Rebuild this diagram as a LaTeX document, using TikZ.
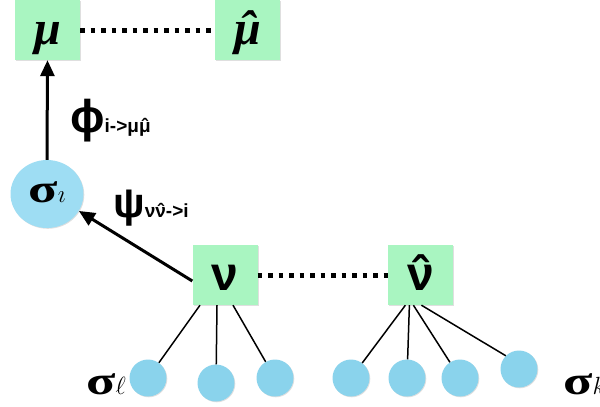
\documentclass[tikz,border=0pt]{standalone}
\usepackage{fontspec}
\setmainfont{Liberation Serif}
\newfontfamily\lsans{Liberation Sans}
\usetikzlibrary{positioning,arrows.meta,shadows,shapes.geometric}

\definecolor{factorgreen}{HTML}{A9F5C1}
\definecolor{varblue}{HTML}{8AD3EC}
\definecolor{rootblue}{HTML}{9EDDF3}

\tikzset{
   factor/.style={rectangle, fill=factorgreen, minimum width=65pt, minimum height=60pt,
      inner sep=0pt, drop shadow={shadow xshift=1pt, shadow yshift=-1pt, opacity=0.25}},
   var/.style={circle, fill=varblue, minimum size=37pt, inner sep=0pt,
      drop shadow={shadow xshift=0.8pt, shadow yshift=-0.8pt, opacity=0.25}},
   msg/.style={-{Triangle[length=16pt,width=14pt]}, line width=3pt},
   same/.style={line width=5pt, dash pattern=on 4.5pt off 6pt},
   link/.style={line width=1.5pt}
}

\newcommand{\hatted}[1]{\accent"02C6 #1}
\newcommand{\widesigma}{{\fontsize{40}{42}\selectfont\bfseries\scalebox{1.35}[1]{σ}}}

\begin{document}
\begin{tikzpicture}[x=1pt,y=-1pt]
   \useasboundingbox (0,0) rectangle (600,407);

   % top factors
   \node[factor, text height=28pt, text depth=0pt] (mu) at (47.5,30)
      {\fontsize{48}{50}\selectfont\bfseries\itshape μ};
   \node[factor, text height=28pt, text depth=0pt, right=135pt of mu] (muhat)
      {\fontsize{48}{50}\selectfont\bfseries\itshape \hatted{μ}};
   \draw[same] (mu) -- (muhat);

   % root variable
   \node[ellipse, fill=rootblue, minimum width=73pt, minimum height=68pt, inner sep=0pt,
      drop shadow={shadow xshift=0.8pt, shadow yshift=-0.8pt, opacity=0.25}]
      (si) at (47,194) {};
   \node[inner sep=0pt] (silabel) at ([yshift=2pt]si) {\widesigma\fontsize{36}{38}\selectfont$\imath$};

   % lower factors
   \node[factor, text height=30pt, text depth=0pt] (nu) at (225,275)
      {\lsans\fontsize{48}{50}\selectfont\bfseries ν};
   \node[factor, text height=30pt, text depth=0pt, right=130pt of nu] (nuhat)
      {\lsans\fontsize{48}{50}\selectfont\bfseries \hatted{ν}};
   \draw[same] (nu) -- (nuhat);

   % messages
   \draw[msg] (si.north) -- (mu.south);
   \draw[msg] ([yshift=-6pt]nu.west) -- (si.-28);
   \node[anchor=west, inner sep=0pt] (phi) at (70,121)
      {\lsans\bfseries\fontsize{46}{48}\selectfont ɸ\fontsize{19}{21}\selectfont i->μ\hatted{μ}};
   \node[anchor=west, inner sep=0pt] (psi) at (113,208)
      {\lsans\bfseries\fontsize{42}{44}\selectfont ψ\fontsize{19}{21}\selectfont ν\hatted{ν}->i};

   % leaf variables
   \node[var] (l1) at (148,378) {};
   \node[var] (l2) at (216,383) {};
   \node[var] (l3) at (275,378) {};
   \node[var] (k1) at (351,378) {};
   \node[var] (k2) at (407,378) {};
   \node[var] (k3) at (460,378) {};
   \node[var] (k4) at (519,369) {};

   \draw[link] ([xshift=-25pt]nu.south) -- (l1);
   \draw[link] ([xshift=-8pt]nu.south) -- (l2);
   \draw[link] ([xshift=8pt]nu.south) -- (l3);
   \draw[link] ([xshift=-15pt]nuhat.south) -- (k1);
   \draw[link] ([xshift=-11pt]nuhat.south) -- (k2);
   \draw[link] ([xshift=-7pt]nuhat.south) -- (k3);
   \draw[link] ([xshift=1pt]nuhat.south) -- (k4.north west);

   \node[anchor=east, inner sep=0pt] (sl) at (126,384)
      {\widesigma\fontsize{30}{32}\selectfont$\ell$};
   \node[anchor=west, inner sep=0pt] (sk) at (563,384)
      {\widesigma\fontsize{30}{32}\selectfont$k$};
\end{tikzpicture}
\end{document}
